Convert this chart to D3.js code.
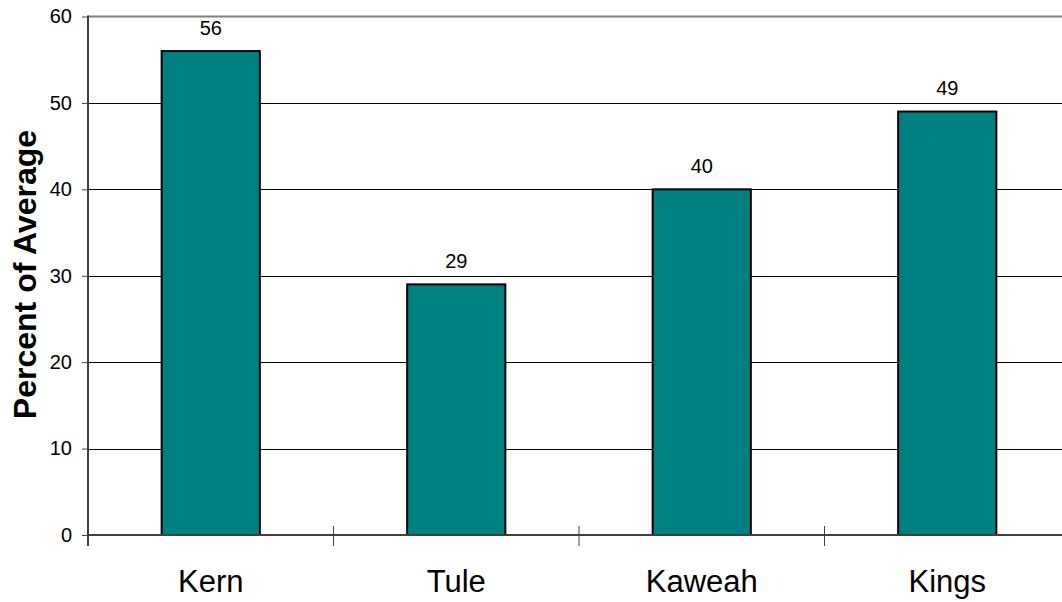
<!DOCTYPE html>
<html>
<head>
<meta charset="utf-8">
<script src="https://cdn.jsdelivr.net/npm/d3@7"></script>
<style>
  html, body { margin: 0; padding: 0; background: #fff; }
  svg { display: block; font-family: Arial, "Liberation Sans", sans-serif; }
</style>
</head>
<body>
<svg id="chart" width="1062" height="602"></svg>
<script>
// Runoff by basin, percent of average
const basins = ["Kern", "Tule", "Kaweah", "Kings"];
const percents = [56, 29, 40, 49];
const yTicks = [0, 10, 20, 30, 40, 50, 60];

const svg = d3.select("#chart");
const plotLeft = 88, plotTop = 16.5, plotBottom = 535;
const bandW = 245.5;
const plotRight = plotLeft + bandW * basins.length;

const x = d3.scaleBand().domain(basins).range([plotLeft, plotRight]).paddingInner(0.6).paddingOuter(0.3);
const xEdge = d3.scaleLinear().domain([0, basins.length]).range([plotLeft, plotRight]);
const y = d3.scaleLinear().domain([0, 60]).range([plotBottom, plotTop]);

// horizontal gridlines
svg.append("g").selectAll("line")
  .data(yTicks.filter(d => d > 0 && d < 60))
  .join("line")
  .attr("x1", plotLeft).attr("x2", plotRight)
  .attr("y1", d => Math.round(y(d)) + 0.5).attr("y2", d => Math.round(y(d)) + 0.5)
  .attr("stroke", "#000").attr("stroke-width", 1);

// top border of the plot area
svg.append("line")
  .attr("x1", plotLeft).attr("x2", plotRight)
  .attr("y1", y(60)).attr("y2", y(60))
  .attr("stroke", "#808080").attr("stroke-width", 2);

// bars
svg.append("g").selectAll("rect")
  .data(basins.map((b, i) => ({ b, v: percents[i] })))
  .join("rect")
  .attr("x", d => x(d.b))
  .attr("y", d => y(d.v))
  .attr("width", x.bandwidth())
  .attr("height", d => y(0) - y(d.v))
  .attr("fill", "#008080")
  .attr("stroke", "#000")
  .attr("stroke-width", 2);

// value labels
svg.append("g").selectAll("text")
  .data(basins.map((b, i) => ({ b, v: percents[i] })))
  .join("text")
  .attr("x", d => x(d.b) + x.bandwidth() / 2)
  .attr("y", d => y(d.v) - 16.5)
  .attr("text-anchor", "middle")
  .attr("font-size", 20)
  .attr("fill", "#000")
  .text(d => d.v);

// y axis
const yAxis = d3.axisLeft(y).tickValues(yTicks).tickSize(6).tickPadding(10);
const gy = svg.append("g").attr("transform", `translate(${plotLeft},0)`).call(yAxis);
gy.select(".domain").remove();
gy.selectAll(".tick line").attr("stroke", "#404040").attr("stroke-width", 1);
gy.selectAll(".tick text").attr("font-size", 20).attr("fill", "#000")
  .attr("font-family", "Arial, 'Liberation Sans', sans-serif");
svg.append("line")
  .attr("x1", plotLeft).attr("x2", plotLeft)
  .attr("y1", plotTop - 1).attr("y2", plotBottom + 11)
  .attr("stroke", "#404040").attr("stroke-width", 2);

// x axis baseline and category separators
svg.append("line")
  .attr("x1", plotLeft).attr("x2", plotRight)
  .attr("y1", plotBottom).attr("y2", plotBottom)
  .attr("stroke", "#404040").attr("stroke-width", 2);
svg.append("g").selectAll("line")
  .data(d3.range(1, basins.length + 1))
  .join("line")
  .attr("x1", i => xEdge(i)).attr("x2", i => xEdge(i))
  .attr("y1", plotBottom - 9).attr("y2", plotBottom + 11)
  .attr("stroke", "#404040").attr("stroke-width", 1);

// category labels
svg.append("g").selectAll("text")
  .data(basins)
  .join("text")
  .attr("x", d => x(d) + x.bandwidth() / 2)
  .attr("y", 592)
  .attr("text-anchor", "middle")
  .attr("font-size", 31)
  .attr("fill", "#000")
  .text(d => d);

// y axis title
svg.append("text")
  .attr("transform", `translate(36,274.5) rotate(-90)`)
  .attr("text-anchor", "middle")
  .attr("font-size", 32)
  .attr("font-weight", "bold")
  .attr("fill", "#000")
  .text("Percent of Average");
</script>
</body>
</html>
